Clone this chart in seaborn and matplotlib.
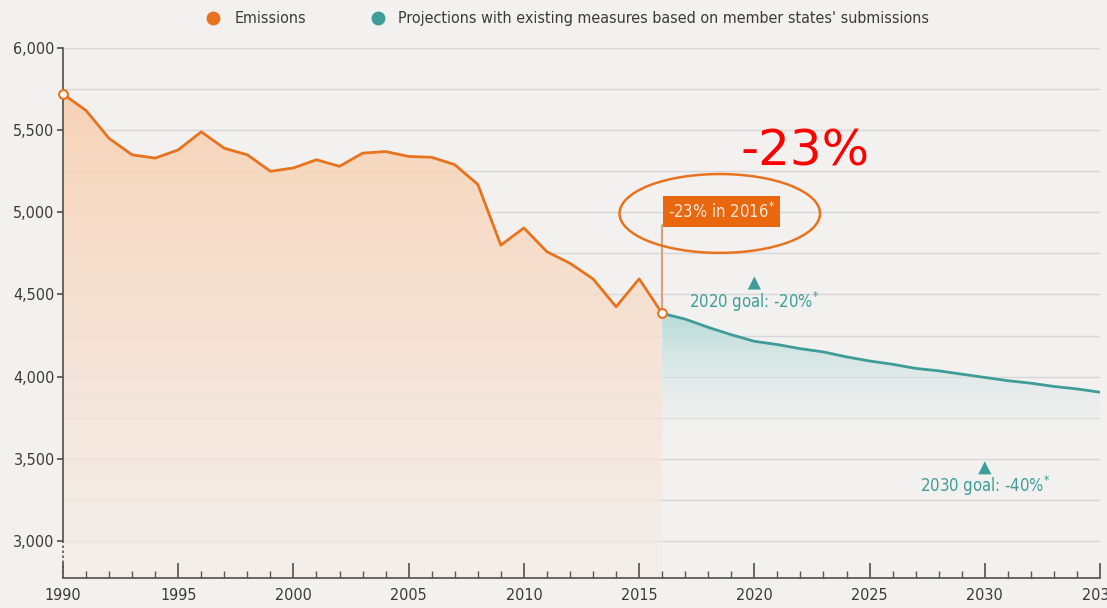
import numpy as np
import pandas as pd
import matplotlib
matplotlib.use("Agg")
import matplotlib.pyplot as plt
import seaborn as sns
from matplotlib.lines import Line2D
from matplotlib.patches import Ellipse
from matplotlib.ticker import FuncFormatter, MultipleLocator

# ---------------------------------------------------------------------------
# Datos
# ---------------------------------------------------------------------------
years_hist = list(range(1990, 2017))
emissions = [5720, 5620, 5450, 5350, 5330, 5380, 5490, 5390, 5350, 5250,
             5270, 5320, 5280, 5360, 5370, 5340, 5335, 5290, 5170, 4800,
             4905, 4760, 4690, 4595, 4425, 4595, 4385]

years_proj = list(range(2016, 2036))
projection = [4385, 4350, 4300, 4255, 4215, 4195, 4170, 4150, 4120, 4095,
              4075, 4050, 4035, 4015, 3995, 3975, 3960, 3940, 3925, 3905]

goal_years = [2020, 2030]
goal_values = [4570, 3445]
goal_labels = ["2020 goal: -20%*", "2030 goal: -40%*"]

legend_labels = ["Emissions", "Projections with existing measures based on member states' submissions"]

df_hist = pd.DataFrame({"year": years_hist, "value": emissions})
df_proj = pd.DataFrame({"year": years_proj, "value": projection})

ORANGE = "#E8731E"
TEAL = "#3E9D98"
BG = "#F2F1F0"
TXT = "#3A3A3A"

sns.set_theme(style="white")
plt.rcParams["font.family"] = ["DejaVu Sans"]
plt.rcParams["font.stretch"] = "condensed"

fig = plt.figure(figsize=(11.07, 6.08), dpi=100, facecolor=BG)
ax = fig.add_axes([0.0569, 0.0493, 0.9368, 0.8717])
ax.set_facecolor(BG)
ax.set_axisbelow(False)

YMIN, YMAX = 2774, 6000
ax.set_xlim(1990, 2035)
ax.set_ylim(YMIN, YMAX)

# líneas de referencia cada 250
for v in np.arange(3000, 6001, 250):
    ax.axhline(v, color="#D9D7D5", lw=1.0, zorder=0)


def gradient_fill(x, y, top_rgb, bottom_rgb, top_a, bottom_a, y_top, y_bot):
    poly = ax.fill_between(x, y, YMIN, color="none", lw=0)
    n = 256
    grad = np.zeros((n, 1, 4))
    t = np.linspace(0, 1, n)[:, None]
    top = np.array(matplotlib.colors.to_rgb(top_rgb))
    bot = np.array(matplotlib.colors.to_rgb(bottom_rgb))
    grad[:, 0, :3] = top * (1 - t) + bot * t
    grad[:, 0, 3] = (top_a * (1 - t) + bottom_a * t)[:, 0]
    im = ax.imshow(grad, extent=[min(x), max(x), y_bot, y_top], aspect="auto",
                   origin="upper", zorder=1)
    im.set_clip_path(poly.get_paths()[0], transform=ax.transData)


gradient_fill(years_hist, emissions, "#F8D3B6", "#F5ECE7", 1.0, 0.6, 5720, YMIN)
gradient_fill(years_proj, projection, "#B5DCD8", BG, 1.0, 0.0, 4385, 3550)

sns.lineplot(data=df_hist, x="year", y="value", color=ORANGE, lw=2.0, ax=ax, zorder=4)
sns.lineplot(data=df_proj, x="year", y="value", color=TEAL, lw=2.0, ax=ax, zorder=3)

# marcadores abiertos al inicio / final
ax.scatter([years_hist[0], years_hist[-1]], [emissions[0], emissions[-1]], s=40,
           facecolor="white", edgecolor=ORANGE, lw=1.5, zorder=6, clip_on=False)

# anotación -23%
ax.plot([2016, 2016], [emissions[-1], 4920], color="#D9A27A", lw=1.5, zorder=5)
ax.text(2016.25, 5005, "-23% in 2016$^{*}$", ha="left", va="center", color="#FCE9D8",
        fontsize=12, zorder=7,
        bbox=dict(boxstyle="square,pad=0.3", fc="#E8670F", ec="none"))
ax.add_patch(Ellipse((2018.5, 4993), 8.7, 480, fill=False, ec=ORANGE, lw=1.8, zorder=8))
ax.text(2022.2, 5370, "-23%", color="red", fontsize=36, ha="center", va="center",
        stretch="normal", zorder=8)

# objetivos
sns.scatterplot(x=goal_years, y=goal_values, marker="^", s=90, color=TEAL,
                edgecolor="none", ax=ax, zorder=6)
for gx, gy, lab in zip(goal_years, goal_values, goal_labels):
    ax.text(gx, gy - 40, lab.replace("*", "$^{*}$"), ha="center", va="top",
            color=TEAL, fontsize=12)

# ejes
for s in ["top", "right"]:
    ax.spines[s].set_visible(False)
ax.spines["left"].set_bounds(3000, 6000)
ax.spines["left"].set_color("#555555")
ax.spines["bottom"].set_color("#555555")
ax.plot([1990, 1990], [YMIN, 3000], color="#555555", lw=1.2, ls=(0, (1.5, 1.5)),
        clip_on=False)

ax.yaxis.set_major_formatter(FuncFormatter(lambda v, p: f"{int(v):,}"))
ax.set_yticks(np.arange(3000, 6001, 500))
ax.tick_params(axis="y", direction="out", length=4, color="#555555",
               labelsize=11.5, labelcolor=TXT, left=True, pad=2)

ax.xaxis.set_major_locator(MultipleLocator(5))
ax.xaxis.set_minor_locator(MultipleLocator(1))
ax.tick_params(axis="x", which="major", direction="in", length=11, color="#555555",
               labelsize=11.5, labelcolor=TXT, bottom=True, pad=7)
ax.tick_params(axis="x", which="minor", direction="in", length=5, color="#555555",
               bottom=True)
ax.set_xlabel("")
ax.set_ylabel("")

# leyenda
handles = [Line2D([], [], ls="none", marker="o", ms=9, color=ORANGE),
           Line2D([], [], ls="none", marker="o", ms=9, color=TEAL)]
fig.legend(handles, legend_labels, ncol=2, loc="upper center",
           bbox_to_anchor=(0.509, 1.005), frameon=False, fontsize=11.5,
           labelcolor=TXT, handletextpad=0.3, columnspacing=3.5)

fig.savefig("out.png", dpi=100, facecolor=BG)
